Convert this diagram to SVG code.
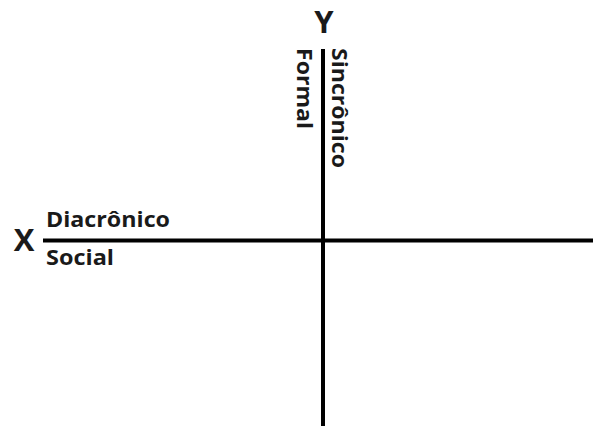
<svg xmlns="http://www.w3.org/2000/svg" width="593" height="426" viewBox="0 0 593 426">
<style>
.ax{stroke:#000;stroke-width:4;fill:none}
.lbl{font-family:"Open Sans","Noto Sans",sans-serif;font-weight:bold;font-size:21px;fill:#1a1a1a}
.big{font-family:"Open Sans","Noto Sans",sans-serif;font-weight:bold;font-size:31px;fill:#1a1a1a}
</style>
<rect width="593" height="426" fill="#fff"/>
<g id="connectors">
<line class="ax" x1="43" y1="240.5" x2="593" y2="240.5"/>
<line class="ax" x1="323" y1="49" x2="323" y2="426"/>
</g>
<g id="axis-x">
<text class="big" x="24" y="251" text-anchor="middle">X</text>
<text class="lbl" x="46" y="227" textLength="124" lengthAdjust="spacingAndGlyphs">Diacrônico</text>
<text class="lbl" x="46" y="265" textLength="68" lengthAdjust="spacingAndGlyphs">Social</text>
</g>
<g id="axis-y">
<text class="big" x="324" y="33" text-anchor="middle">Y</text>
<text class="lbl" transform="translate(332,48) rotate(90)" textLength="120" lengthAdjust="spacingAndGlyphs">Sincrônico</text>
<text class="lbl" transform="translate(297,48) rotate(90)" textLength="81" lengthAdjust="spacingAndGlyphs">Formal</text>
</g>
</svg>
